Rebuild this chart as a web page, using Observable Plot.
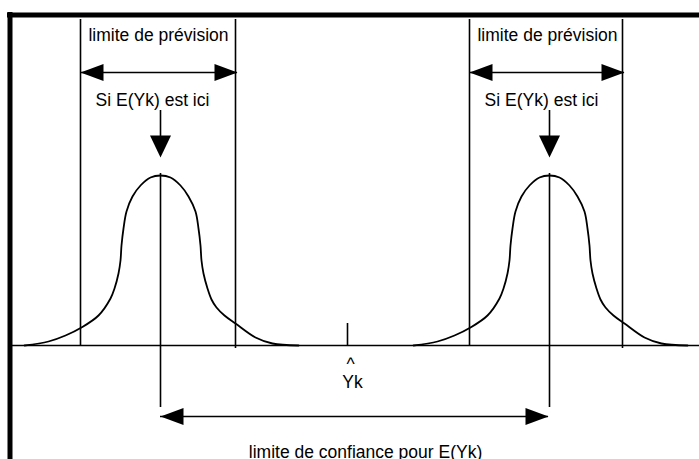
<!DOCTYPE html>
<html>
<head>
<meta charset="utf-8">
<script src="https://cdn.jsdelivr.net/npm/d3@7"></script>
<script src="https://cdn.jsdelivr.net/npm/@observablehq/plot@0.6"></script>
<style>
  html, body { margin: 0; padding: 0; background: white; }
</style>
</head>
<body>
<div id="chart"></div>
<script>
// ---- data (diagram units: x along the axis, y = height above the axis) ----
const centers = [160, 549];          // possible positions of E(Yk)
const predLow = [80, 469];           // lower prediction limits
const predHigh = [235, 622];         // upper prediction limits
const yHat = 347;                    // Ŷk
const confLow = 160, confHigh = 548; // confidence limits for E(Yk)

// bell-curve profile (offset from centre, height)
const profileDx = [-136, -112, -95, -79, -62, -50, -46, -42, -40, -39, -37, -34, -28, -20, -10, 0,
                   10, 20, 28, 35, 38, 40, 41, 43, 47, 51, 56, 64, 75, 95, 112, 138];
const profileH  = [0, 4, 10, 18, 30, 47, 57, 72, 85, 100, 117, 134, 149, 160, 168, 170,
                   168, 160, 149, 134, 117, 100, 85, 72, 57, 46, 38, 30, 22, 8, 2, 0];

const axisStart = 12, axisEnd = 699;
const predArrowLevel = 273;
const confArrowLevel = -71;
const pointerTop = 235, pointerTip = 188;
const predTop = 326;
const centerBottom = -62;
const hatTickTop = 22;

const labelPred = "limite de prévision";
const labelSi = "Si E(Yk) est ici";
const labelHat = "^";
const labelYk = "Yk";
const labelConf = "limite de confiance pour E(Yk)";

// ---- tables ----
const curves = centers.flatMap((c, k) =>
  profileDx.map((dx, i) => ({k, x: c + dx, y: profileH[i]})));

const predLines = predLow.flatMap((lo, k) => [
  {x: lo, y1: predTop, y2: 0},
  {x: predHigh[k], y1: predTop, y2: -3}
]);

const heads = [
  ...predLow.flatMap((lo, k) => [
    {x: lo, y: predArrowLevel, r: 180},
    {x: predHigh[k] + 2, y: predArrowLevel, r: 0}
  ]),
  ...centers.map(c => ({x: c, y: pointerTip, r: 90})),
  {x: confLow, y: confArrowLevel, r: 180},
  {x: confHigh, y: confArrowLevel, r: 0}
];

const arrowShafts = [
  ...predLow.map((lo, k) => ({x1: lo, x2: predHigh[k] + 2, y: predArrowLevel})),
  {x1: confLow, x2: confHigh, y: confArrowLevel}
];

const texts = [
  ...centers.map(c => ({x: c - 2, y: 305, t: labelPred})),
  ...centers.map(c => ({x: c - 8, y: 240, t: labelSi})),
  {x: yHat + 3, y: -24, t: labelHat},
  {x: yHat + 5, y: -42, t: labelYk},
  {x: 365, y: -112, t: labelConf}
];

// custom filled arrowhead: tip at origin pointing right
function head(L, W) {
  return {draw(ctx) { ctx.moveTo(0, 0); ctx.lineTo(-L, -W); ctx.lineTo(-L, W); ctx.closePath(); }};
}

const font = "Liberation Sans, Arial, sans-serif";

const chart = Plot.plot({
  width: 699,
  height: 459,
  margin: 0,
  x: {domain: [0, 699], range: [0, 699], axis: null},
  y: {domain: [-114, 345], range: [459, 0], axis: null},
  style: {background: "white"},
  marks: [
    // frame (left + top thick bars)
    Plot.ruleX([9.5], {y1: -114, y2: 333, stroke: "black", strokeWidth: 5}),
    Plot.ruleY([330.5], {x1: 7, x2: 699, stroke: "black", strokeWidth: 5}),
    // axis line
    Plot.ruleY([0], {x1: axisStart, x2: axisEnd, stroke: "black", strokeWidth: 1.6}),
    // Ŷk tick
    Plot.ruleX([yHat], {y1: 0, y2: hatTickTop, stroke: "black", strokeWidth: 1.6}),
    // prediction limits
    Plot.ruleX(predLines, {x: "x", y1: "y1", y2: "y2", stroke: "black", strokeWidth: 1.6}),
    // centre lines
    Plot.ruleX(centers, {y1: 172, y2: centerBottom, stroke: "black", strokeWidth: 1.6}),
    // bell curves
    Plot.line(curves, {x: "x", y: "y", z: "k", curve: "catmull-rom", stroke: "black", strokeWidth: 1.8}),
    // arrow shafts
    Plot.ruleY(arrowShafts, {x1: "x1", x2: "x2", y: "y", stroke: "black", strokeWidth: 1.6}),
    Plot.ruleX(centers, {y1: pointerTop, y2: pointerTip + 20, stroke: "black", strokeWidth: 1.6}),
    // arrow heads
    Plot.dot(heads.filter(d => d.r !== 90), {x: "x", y: "y", rotate: "r", symbol: head(23, 8.5), fill: "black", stroke: null, r: 5}),
    Plot.dot(heads.filter(d => d.r === 90), {x: "x", y: "y", rotate: "r", symbol: head(22, 10.5), fill: "black", stroke: null, r: 5}),
    // texts
    Plot.text(texts, {x: "x", y: "y", text: "t", lineAnchor: "bottom", textAnchor: "middle",
      fontFamily: font, fontSize: 17.5, fill: "black"})
  ]
});
document.getElementById("chart").appendChild(chart);
</script>
</body>
</html>
